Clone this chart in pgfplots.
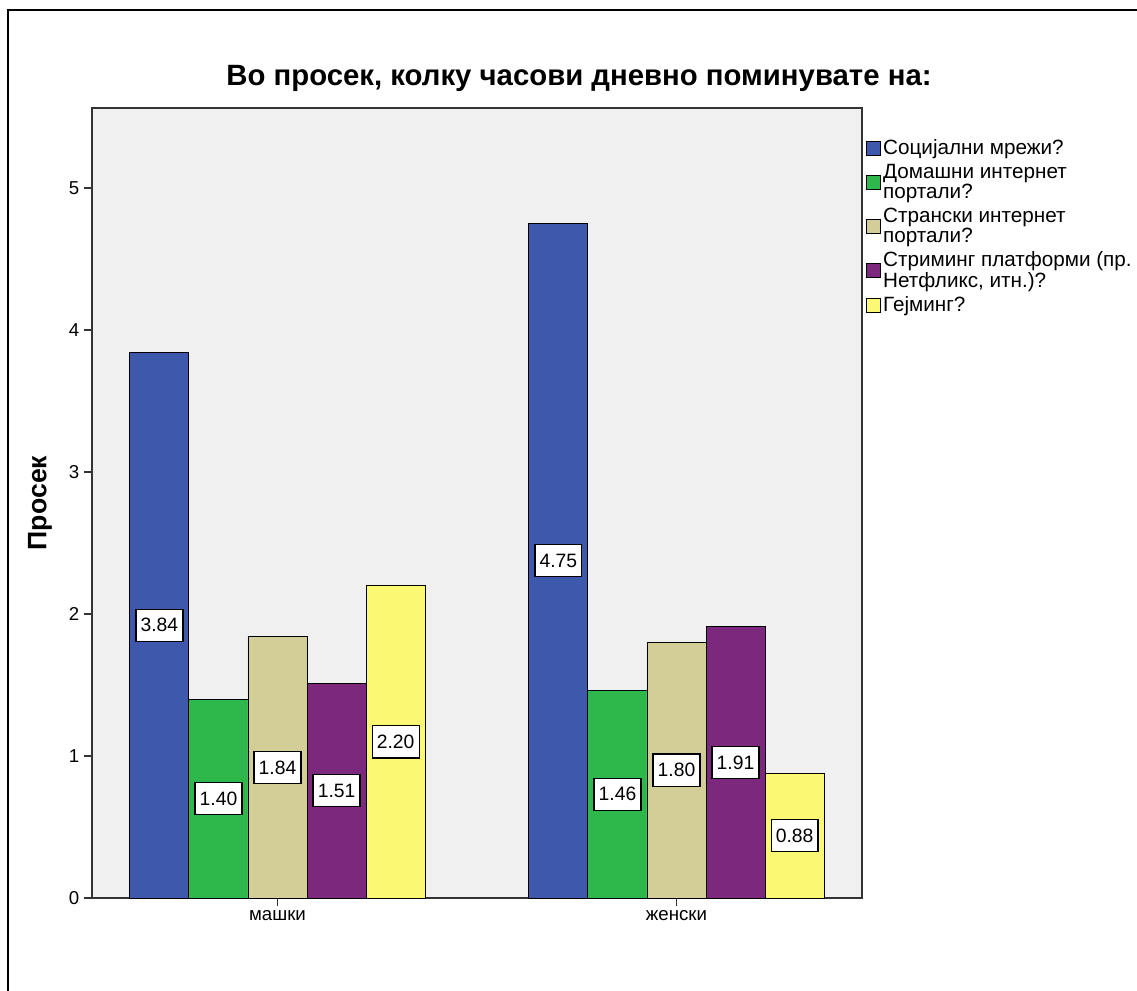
\documentclass[border=0pt]{standalone}
\usepackage{pgfplots}
\pgfplotsset{compat=1.18}
\usepackage{fontspec}
\setmainfont{Liberation Sans}
\definecolor{cblue}{RGB}{62,88,172}
\definecolor{cgreen}{RGB}{46,184,76}
\definecolor{ctan}{RGB}{211,206,151}
\definecolor{cpurple}{RGB}{124,40,124}
\definecolor{cyellow}{RGB}{251,248,115}
\definecolor{cbg}{RGB}{240,240,240}
\begin{document}
\begin{tikzpicture}[x=0.75pt,y=0.75pt]
\path[use as bounding box] (0,0) rectangle (1137,990);
\draw[line width=1.3pt] (8,-5) -- (8,980) -- (1142,980);
\node[font=\bfseries\fontsize{22}{26}\selectfont] at (579,912) {Во просек, колку часови дневно поминувате на:};
\begin{axis}[
  at={(69pt,69pt)}, anchor=south west,
  scale only axis, width=577.5pt, height=592.5pt,
  xmin=-0.465, xmax=1.465, ymin=0, ymax=5.563,
  axis background/.style={fill=cbg},
  axis line style={black!80, line width=1pt},
  ybar=0pt, bar width=0.148,
  xtick={0,1}, xticklabels={машки,женски},
  ytick={0,1,2,3,4,5},
  tick align=outside, major tick length=6pt,
  tick style={black!80, line width=1pt},
  xtick pos=bottom, ytick pos=left,
  /pgf/number format/assume math mode=true,
  tick label style={font=\fontsize{14}{16}\selectfont},
  ylabel={Просек},
  ylabel style={at={(axis description cs:-0.0675,0.5)}, anchor=center, font=\bfseries\fontsize{20}{22}\selectfont},
  point meta=rawy,
  visualization depends on={rawy \as \rawy},
  nodes near coords={\pgfmathprintnumber[fixed,fixed zerofill,precision=2]{\pgfplotspointmeta}},
  every node near coord/.append style={anchor=center, yshift={-53.25*\rawy}, fill=white, draw=black, line width=0.9pt, inner xsep=3.5pt, inner ysep=7pt, font=\fontsize{14.5}{16}\selectfont, text=black},
  legend image code/.code={\draw[#1, draw=black, line width=0.7pt] (0pt,-5.25pt) rectangle (10.5pt,5.25pt);},
  legend cell align=left,
  legend style={at={(1,0.966)}, anchor=north west, draw=none, fill=none, font=\fontsize{15.5}{12}\selectfont, nodes={align=left, inner sep=1.5pt}, row sep=2.6pt},
]
\addplot[fill=cblue, draw=black, line width=0.7pt] coordinates {(0,3.84) (1,4.75)};
\addplot[fill=cgreen, draw=black, line width=0.7pt] coordinates {(0,1.40) (1,1.46)};
\addplot[fill=ctan, draw=black, line width=0.7pt] coordinates {(0,1.84) (1,1.80)};
\addplot[fill=cpurple, draw=black, line width=0.7pt] coordinates {(0,1.51) (1,1.91)};
\addplot[fill=cyellow, draw=black, line width=0.7pt] coordinates {(0,2.20) (1,0.88)};
\legend{Социјални мрежи?, {Домашни интернет\\[0pt]портали?}, {Странски интернет\\[0pt]портали?}, {Стриминг платформи (пр.\\[0pt]Нетфликс, итн.)?}, Гејминг?}
\end{axis}
\end{tikzpicture}
\end{document}
